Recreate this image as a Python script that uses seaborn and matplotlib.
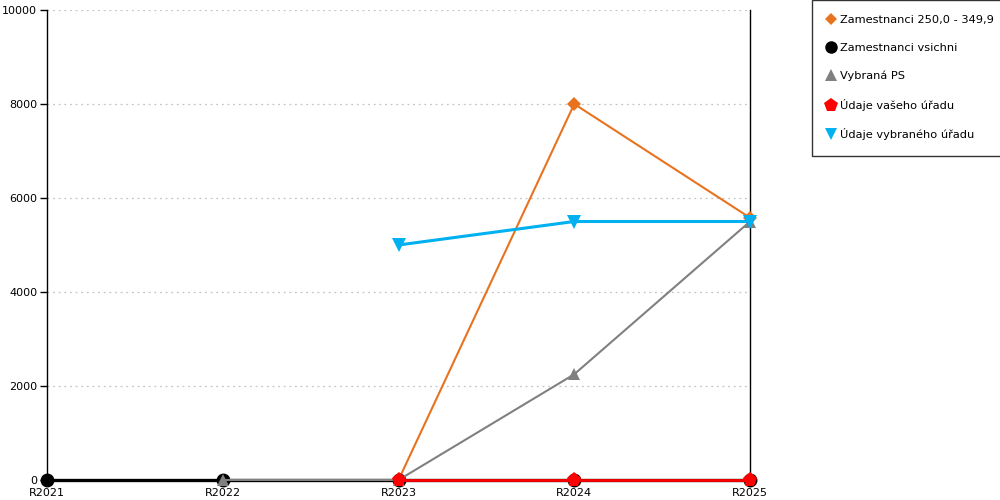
import matplotlib
matplotlib.use("Agg")
import matplotlib.pyplot as plt
import seaborn as sns
import numpy as np
import pandas as pd
from matplotlib.ticker import MultipleLocator

categories = ["R2021", "R2022", "R2023", "R2024", "R2025"]

zam_250 = [np.nan, np.nan, 0, 8000, 5580]
zam_all = [0, 0, 0, 0, 0]
vybrana_ps = [np.nan, 0, 0, 2250, 5500]
vas_urad = [np.nan, np.nan, 0, 0, 0]
vybrany_urad = [np.nan, np.nan, 5000, 5500, 5500]

# label, values, colour, marker, marker size, line width, legend marker size
series = [
    ("Zamestnanci 250,0 - 349,9", zam_250, "#E8731E", "D", 7, 1.5, 6.5),
    ("Zamestnanci vsichni", zam_all, "#000000", "o", 10, 2.4, 9),
    ("Vybraná PS", vybrana_ps, "#808080", "^", 9, 1.5, 9),
    ("Údaje vašeho úřadu", vas_urad, "#FF0000", "p", 11, 2.0, 10),
    ("Údaje vybraného úřadu", vybrany_urad, "#00B0F0", "v", 10, 2.2, 9),
]

sns.set_style("white")
plt.rcParams["font.family"] = ["DejaVu Sans"]
plt.rcParams["text.color"] = "black"
plt.rcParams["xtick.color"] = "black"
plt.rcParams["ytick.color"] = "black"

fig = plt.figure(figsize=(10, 5), dpi=100)
ax = fig.add_axes([0.047, 0.04, 0.703, 0.94])

pos = list(range(len(categories)))
for label, vals, color, marker, ms, lw, _ in series:
    df = pd.DataFrame({"x": pos, "y": vals}).dropna()
    sns.lineplot(data=df, x="x", y="y", ax=ax, color=color, marker=marker,
                 markersize=ms, linewidth=lw, markeredgewidth=0,
                 label=label, clip_on=False, zorder=3)

ax.set_xlim(0, 4)
ax.set_ylim(0, 10000)
ax.set_xticks(pos)
ax.set_xticklabels(categories)
ax.xaxis.set_minor_locator(MultipleLocator(0.5))
ax.set_yticks(range(0, 10001, 2000))
ax.tick_params(axis="x", which="major", length=0, pad=6, labelsize=8)
ax.tick_params(axis="x", which="minor", length=9, direction="inout", width=1, color="black")
ax.tick_params(axis="y", which="major", length=5, width=1, color="black", labelsize=8, pad=2, left=True)
ax.set_xlabel("")
ax.set_ylabel("")

ax.grid(axis="y", color="#c4c4c4", linestyle=(0, (1.5, 3)), linewidth=0.9)
ax.set_axisbelow(True)

for s in ["left", "right", "bottom"]:
    ax.spines[s].set_visible(True)
    ax.spines[s].set_color("black")
    ax.spines[s].set_linewidth(1)
ax.spines["top"].set_visible(False)

ax.legend_.remove()
handles, labels = ax.get_legend_handles_labels()
leg = fig.legend(handles, labels, loc="upper left", bbox_to_anchor=(0.812, 1.0),
                 frameon=True, fancybox=False, edgecolor="black", fontsize=8.2,
                 handlelength=0.6, handletextpad=0.5, labelspacing=1.55,
                 borderpad=1.35, borderaxespad=0)
leg.get_frame().set_linewidth(1)
for h, s in zip(leg.legend_handles, series):
    h.set_linestyle("none")
    h.set_markersize(s[6])

fig.savefig("out.png", dpi=100)
